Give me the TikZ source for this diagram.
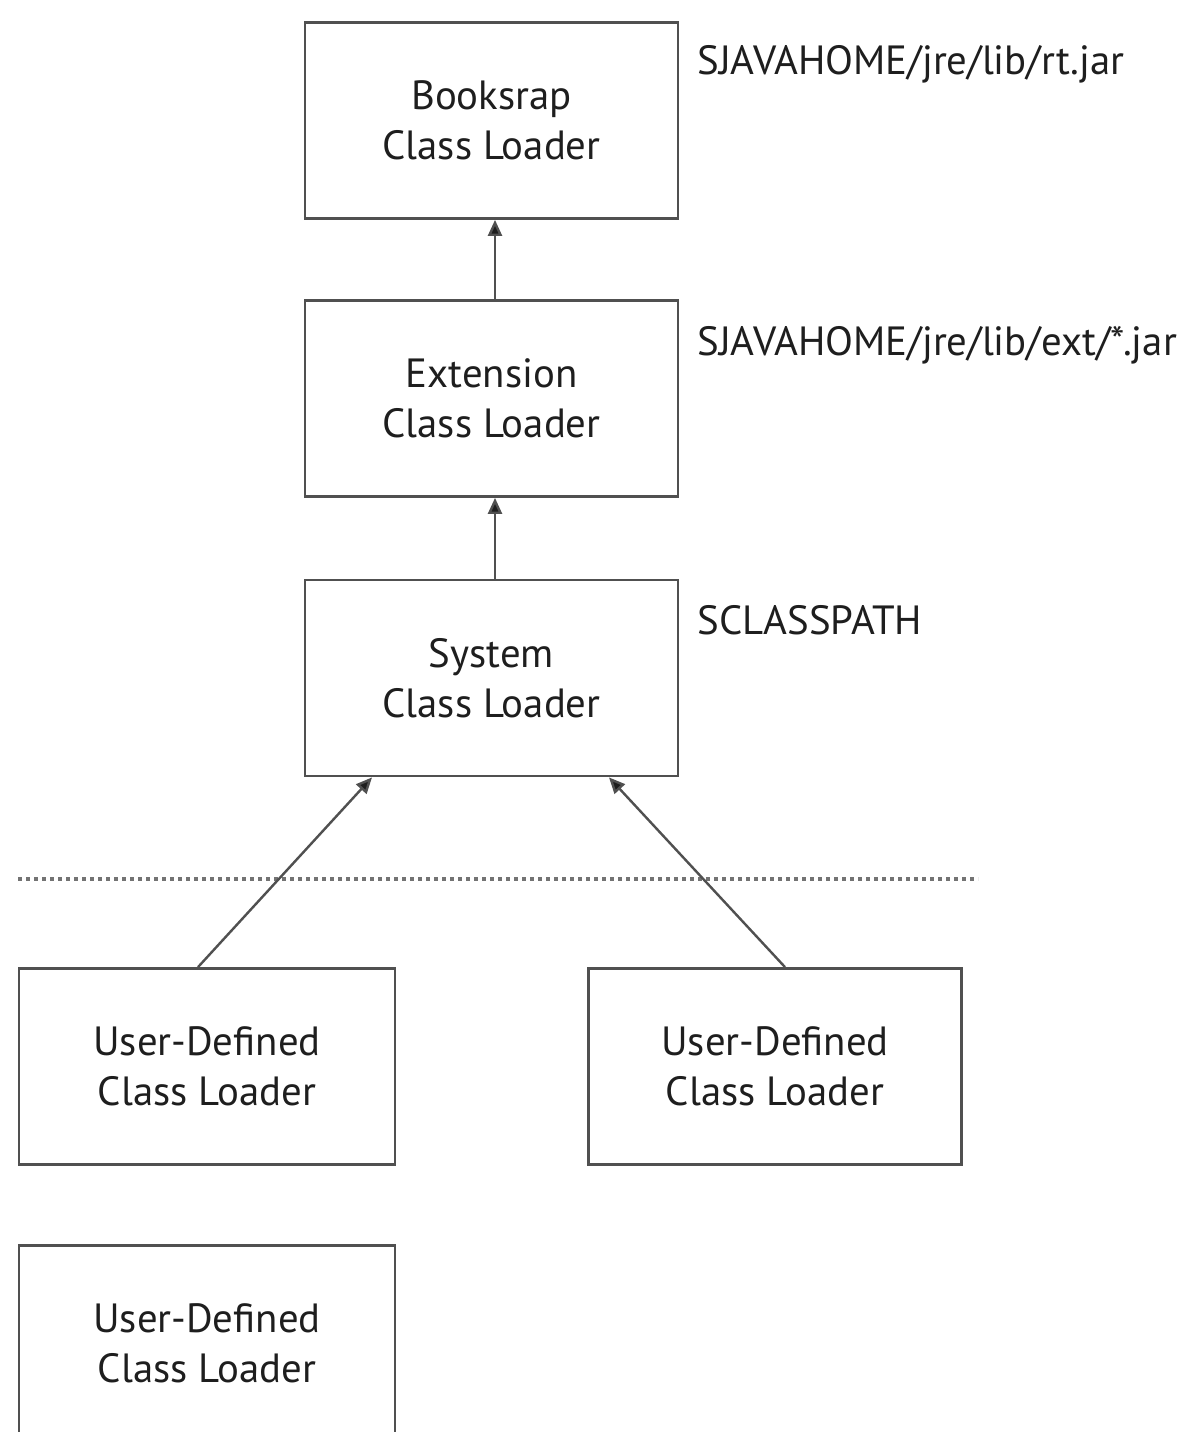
\documentclass[tikz,border=0pt]{standalone}
\usepackage{fontspec}
\setmainfont{PT Sans}
\usetikzlibrary{arrows.meta}
\definecolor{edge}{HTML}{505050}
\definecolor{ink}{HTML}{1E1E1E}
\tikzset{
  loaderbox/.style={draw=edge, line width=1.4pt, minimum width=186.5pt, minimum height=98pt,
    inner sep=0pt, align=center, text=ink, font=\fontsize{20.4pt}{25pt}\selectfont},
  pathlabel/.style={anchor=west, inner sep=0pt, text=ink, font=\fontsize{20.4pt}{25pt}\selectfont},
  link/.style={draw=edge, line width=1.2pt, -{Triangle[length=8pt,width=7pt,fill=ink]}},
  divider/.style={draw=edge!80, line width=1.6pt, dash pattern=on 2.2pt off 1.8pt}
}
\begin{document}
\begin{tikzpicture}[x=0.5pt, y=-0.5pt]
\useasboundingbox (0,0) rectangle (1188,1432);
\fill[white] (0,0) rectangle (1188,1432);
\clip (0,0) rectangle (1188,1432);
\node[loaderbox] (boot) at (491.5,120.5) {Booksrap\\Class Loader};
\node[loaderbox] (ext) at (491.5,398.5) {Extension\\Class Loader};
\node[loaderbox] (sys) at (491.5,678) {System\\Class Loader};
\node[loaderbox, minimum width=188pt] (ud1) at (207,1066.5) {User-Defined\\Class Loader};
\node[loaderbox] (ud2) at (775,1066.5) {User-Defined\\Class Loader};
\node[loaderbox, minimum width=188pt] (ud3) at (207,1343.5) {User-Defined\\Class Loader};
\node[pathlabel] (l1) at (697,64) {SJAVAHOME/jre/lib/rt.jar};
\node[pathlabel] (l2) at (697,345) {SJAVAHOME/jre/lib/ext/*.jar};
\node[pathlabel] (l3) at (697,620) {SCLASSPATH};
\draw[link] ([xshift=1.75pt]ext.north) -- ([xshift=1.75pt]boot.south);
\draw[link] ([xshift=1.75pt]sys.north) -- ([xshift=1.75pt]ext.south);
\coordinate (dl) at (18,879);
\coordinate (dr) at (978,879);
\draw[divider] (dl) -- (dr);
\draw[link] ([xshift=-4.5pt]ud1.north) -- ([xshift=-59.75pt]sys.south);
\draw[link] ([xshift=5pt]ud2.north) -- ([xshift=58.75pt]sys.south);
\end{tikzpicture}
\end{document}
